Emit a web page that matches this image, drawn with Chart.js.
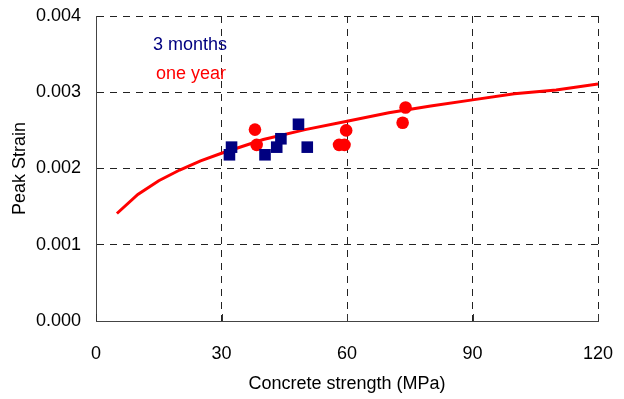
<!DOCTYPE html>
<html>
<head>
<meta charset="utf-8">
<script src="https://cdn.jsdelivr.net/npm/chart.js@4/dist/chart.umd.min.js"></script>
<style>
  html, body { margin: 0; padding: 0; background: #fff; }
  #wrap { width: 624px; height: 399px; }
</style>
</head>
<body>
<div id="wrap"><canvas id="chart"></canvas></div>
<script>
// strength (MPa) vs peak strain
const monthsX = [31.9, 32.4, 40.4, 43.2, 44.2, 48.4, 50.5];
const monthsY = [0.00218, 0.00228, 0.00218, 0.00228, 0.00239, 0.00258, 0.00228];
const yearX = [38.0, 38.4, 58.1, 59.4, 59.8, 73.3, 74.0];
const yearY = [0.00251, 0.00231, 0.00231, 0.00231, 0.00250, 0.00260, 0.00280];
const curveX = [5, 10, 15, 20, 25, 30, 40, 50, 60, 70, 80, 90, 100, 110, 120];
const curveY = [0.00141, 0.00166, 0.00184, 0.00198, 0.00210, 0.00220, 0.00238, 0.00251,
  0.00262, 0.00273, 0.00282, 0.00290, 0.00298, 0.00303, 0.00311];
const xTicks = [0, 30, 60, 90, 120];
const yTicks = [0.000, 0.001, 0.002, 0.003, 0.004];
const seriesNames = ['3 months', 'one year'];

const FONT = "'Liberation Sans', Arial, sans-serif";
const FSIZE = 18;
const toPts = (xs, ys) => xs.map((x, i) => ({ x: x, y: ys[i] }));

// inner tick marks on the x axis + the text legend inside the plot
const extras = {
  id: 'extras',
  afterDraw(chart) {
    const ctx = chart.ctx;
    const xs = chart.scales.x;
    const area = chart.chartArea;
    ctx.save();
    ctx.strokeStyle = '#333';
    ctx.lineWidth = 1;
    xTicks.forEach(v => {
      const px = Math.round(xs.getPixelForValue(v)) + 0.5;
      ctx.beginPath();
      ctx.moveTo(px, area.bottom);
      ctx.lineTo(px, area.bottom - 7);
      ctx.stroke();
    });
    ctx.font = FSIZE + 'px ' + FONT;
    ctx.textBaseline = 'alphabetic';
    ctx.fillStyle = '#000080';
    ctx.fillText(seriesNames[0], area.left + 57, area.top + 34);
    ctx.fillStyle = '#ff0000';
    ctx.fillText(seriesNames[1], area.left + 60, area.top + 63);
    ctx.restore();
  }
};

new Chart(document.getElementById('chart'), {
  type: 'scatter',
  data: {
    datasets: [
      {
        label: seriesNames[0],
        data: toPts(monthsX, monthsY),
        pointStyle: 'rect',
        pointRadius: 8.2,
        backgroundColor: '#000080',
        borderColor: '#000080',
        borderWidth: 0
      },
      {
        label: seriesNames[1],
        data: toPts(yearX, yearY),
        pointStyle: 'circle',
        pointRadius: 6.3,
        backgroundColor: '#ff0000',
        borderColor: '#ff0000',
        borderWidth: 0
      },
      {
        label: 'model',
        data: toPts(curveX, curveY),
        showLine: true,
        pointRadius: 0,
        borderColor: '#ff0000',
        borderWidth: 3,
        tension: 0
      }
    ]
  },
  options: {
    responsive: true,
    maintainAspectRatio: false,
    animation: false,
    layout: { padding: { left: 0, top: 16, right: 26, bottom: 0 } },
    plugins: { legend: { display: false }, tooltip: { enabled: false } },
    scales: {
      x: {
        type: 'linear',
        min: 0,
        max: 120,
        afterBuildTicks: s => { s.ticks = xTicks.map(v => ({ value: v })); },
        afterFit: s => { s.height = 78; s.paddingLeft = 0; s.paddingRight = 0; },
        ticks: { color: '#000', padding: 22, font: { family: FONT, size: FSIZE } },
        grid: { color: '#222', lineWidth: 1, drawTicks: false },
        border: { color: '#444', width: 1, dash: [7, 6] },
        title: {
          display: true,
          text: 'Concrete strength (MPa)',
          color: '#000',
          font: { family: FONT, size: FSIZE },
          padding: { top: 4, bottom: 4 }
        }
      },
      y: {
        min: 0,
        max: 0.004,
        afterBuildTicks: s => { s.ticks = yTicks.map(v => ({ value: v })); },
        afterFit: s => { s.width = 96; s.paddingTop = 0; s.paddingBottom = 0; },
        ticks: {
          color: '#000',
          padding: 15,
          font: { family: FONT, size: FSIZE },
          callback: v => v.toFixed(3)
        },
        grid: { color: '#222', lineWidth: 1, drawTicks: false },
        border: { color: '#444', width: 1, dash: [7, 6] },
        title: {
          display: true,
          text: 'Peak Strain',
          color: '#000',
          font: { family: FONT, size: FSIZE },
          padding: { top: 9, bottom: 9 }
        }
      }
    }
  },
  plugins: [extras]
});
</script>
</body>
</html>
